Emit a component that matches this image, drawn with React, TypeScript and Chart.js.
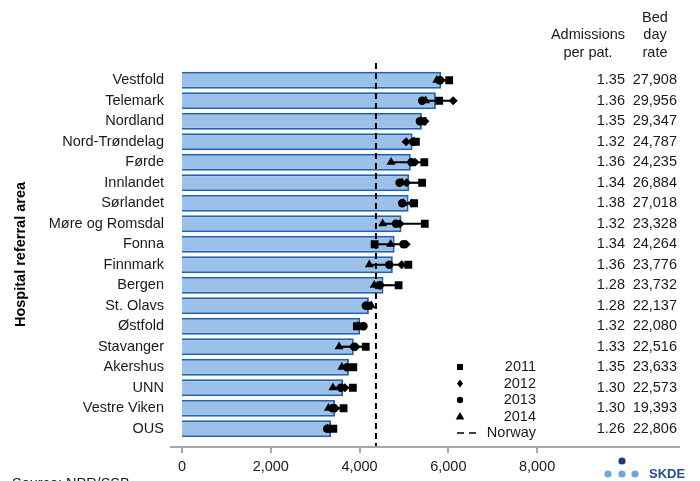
import React, { useEffect, useRef } from 'react';
import { Chart, registerables } from 'chart.js';

Chart.register(...registerables);

const FONT = '"Liberation Sans", Arial, Helvetica, sans-serif';

const categories = [
  'Vestfold', 'Telemark', 'Nordland', 'Nord-Trøndelag', 'Førde', 'Innlandet',
  'Sørlandet', 'Møre og Romsdal', 'Fonna', 'Finnmark', 'Bergen', 'St. Olavs',
  'Østfold', 'Stavanger', 'Akershus', 'UNN', 'Vestre Viken', 'OUS',
];

const rateValues = [5840, 5720, 5405, 5195, 5155, 5120, 5105, 4945, 4790, 4750, 4540, 4210, 4015, 3870, 3760, 3630, 3450, 3360];

const y2011 = [6020, 5795, 5420, 5270, 5460, 5410, 5230, 5470, 4340, 5100, 4880, 4200, 3940, 4140, 3860, 3850, 3640, 3410];
const y2012 = [5840, 6110, 5470, 5050, 5250, 5060, 5180, 4910, 5050, 4950, 4470, 4180, 4060, 3920, 3740, 3670, 3460, 3320];
const y2013 = [5800, 5410, 5360, 5210, 5170, 4900, 4960, 4820, 4990, 4670, 4450, 4140, 4090, 3880, 3720, 3580, 3390, 3270];
const y2014 = [5740, 5490, 5380, 5230, 4710, 4960, 4990, 4520, 4700, 4220, 4330, 4265, 3960, 3540, 3600, 3400, 3300, 3280];

const norwayValue = 4370;

const admissionsPerPat = ['1.35', '1.36', '1.35', '1.32', '1.36', '1.34', '1.38', '1.32', '1.34', '1.36', '1.28', '1.28', '1.32', '1.33', '1.35', '1.30', '1.30', '1.26'];
const bedDayRate = ['27,908', '29,956', '29,347', '24,787', '24,235', '26,884', '27,018', '23,328', '24,264', '23,776', '23,732', '22,137', '22,080', '22,516', '23,633', '22,573', '19,393', '22,806'];

const xTicks = [0, 2000, 4000, 6000, 8000];
const legendYears = ['2011', '2012', '2013', '2014'];
const yearShapes = ['rect', 'rectRot', 'circle', 'triangle'];
const yearRadii = [5.5, 4.6, 4.2, 5.2];

function drawShape(ctx: CanvasRenderingContext2D, shape: string, x: number, y: number, r: number) {
  ctx.beginPath();
  if (shape === 'rect') {
    const s = r * Math.SQRT1_2;
    ctx.rect(x - s, y - s, 2 * s, 2 * s);
  } else if (shape === 'rectRot') {
    ctx.moveTo(x, y - r);
    ctx.lineTo(x + r * 0.75, y);
    ctx.lineTo(x, y + r);
    ctx.lineTo(x - r * 0.75, y);
    ctx.closePath();
  } else if (shape === 'circle') {
    ctx.arc(x, y, r, 0, Math.PI * 2);
  } else {
    const h = r * 1.5;
    ctx.moveTo(x, y - h * 0.6);
    ctx.lineTo(x + r * 0.87, y + h * 0.4);
    ctx.lineTo(x - r * 0.87, y + h * 0.4);
    ctx.closePath();
  }
  ctx.fill();
}

const overlayPlugin = {
  id: 'overlay',
  afterDatasetDraw(chart: any, args: any) {
    if (args.index !== 0) return;
    const ctx = chart.ctx as CanvasRenderingContext2D;
    const xs = chart.scales.x;
    const area = chart.chartArea;
    const axisY = area.bottom + 8;
    const nx = xs.getPixelForValue(norwayValue);
    ctx.save();
    ctx.strokeStyle = '#000';
    ctx.lineWidth = 2;
    ctx.setLineDash([6, 4]);
    ctx.beginPath();
    ctx.moveTo(nx, area.top - 7);
    ctx.lineTo(nx, axisY);
    ctx.stroke();
    ctx.restore();
  },
  afterDraw(chart: any) {
    const ctx = chart.ctx as CanvasRenderingContext2D;
    const xs = chart.scales.x;
    const ys = chart.scales.y;
    const area = chart.chartArea;
    const axisY = area.bottom + 8;
    ctx.save();
    // axis line + ticks
    ctx.strokeStyle = '#a6a6a6';
    ctx.lineWidth = 2;
    ctx.beginPath();
    ctx.moveTo(area.left - 12, axisY);
    ctx.lineTo(area.right, axisY);
    xTicks.forEach((v) => {
      const px = Math.round(xs.getPixelForValue(v));
      ctx.moveTo(px, axisY);
      ctx.lineTo(px, axisY + 6);
    });
    ctx.stroke();

    // table
    ctx.fillStyle = '#1a1a1a';
    ctx.font = `14.5px ${FONT}`;
    ctx.textBaseline = 'middle';
    ctx.textAlign = 'center';
    ctx.fillText('Bed', 655, 18);
    ctx.fillText('Admissions', 588, 35);
    ctx.fillText('day', 655, 35);
    ctx.fillText('per pat.', 588, 53);
    ctx.fillText('rate', 655, 53);
    ctx.textAlign = 'right';
    categories.forEach((_, i) => {
      const py = ys.getPixelForValue(i);
      ctx.fillText(admissionsPerPat[i], 625, py);
      ctx.fillText(bedDayRate[i], 677, py);
    });

    // legend
    const legendYs = [367, 383.5, 400, 416.5];
    ctx.fillStyle = '#000';
    legendYears.forEach((yr, i) => {
      drawShape(ctx, yearShapes[i], 460, legendYs[i], [4.3, 4, 3.2, 5][i]);
      ctx.fillStyle = '#1a1a1a';
      ctx.fillText(yr, 536, legendYs[i]);
      ctx.fillStyle = '#000';
    });
    ctx.strokeStyle = '#000';
    ctx.lineWidth = 1.5;
    ctx.setLineDash([7, 5]);
    ctx.beginPath();
    ctx.moveTo(457, 433);
    ctx.lineTo(478, 433);
    ctx.stroke();
    ctx.setLineDash([]);
    ctx.fillStyle = '#1a1a1a';
    ctx.fillText('Norway', 536, 433);

    // source
    ctx.textAlign = 'left';
    ctx.textBaseline = 'alphabetic';
    ctx.fillText('Source: NPR/SSB', 12, 488);

    // logo
    ctx.fillStyle = '#1f3b78';
    ctx.beginPath();
    ctx.arc(622, 461, 3.6, 0, Math.PI * 2);
    ctx.fill();
    ctx.fillStyle = '#6fa6dc';
    [608, 622, 635].forEach((cx) => {
      ctx.beginPath();
      ctx.arc(cx, 474, 3.6, 0, Math.PI * 2);
      ctx.fill();
    });
    ctx.fillStyle = '#24508f';
    ctx.font = `bold 13px ${FONT}`;
    ctx.textBaseline = 'middle';
    ctx.fillText('SKDE', 649, 474);
    ctx.restore();
  },
};

export default function App() {
  const ref = useRef<HTMLCanvasElement | null>(null);

  useEffect(() => {
    if (!ref.current) return;
    const years = [y2011, y2012, y2013, y2014];
    const ranges = categories.map((_, i) => {
      const vals = years.map((a) => a[i]);
      return [Math.min(...vals), Math.max(...vals)];
    });
    const chart = new Chart(ref.current, {
      type: 'bar',
      data: {
        labels: categories,
        datasets: [
          {
            type: 'bar',
            label: 'Rate',
            data: rateValues,
            backgroundColor: '#9bc1ea',
            borderColor: '#2263ae',
            borderWidth: 2,
            barPercentage: 0.83,
            categoryPercentage: 1,
            grouped: false,
            order: 10,
          } as any,
          {
            type: 'bar',
            label: 'Range',
            data: ranges as any,
            backgroundColor: '#000',
            barThickness: 1.5,
            grouped: false,
            order: 6,
          } as any,
          ...years.map((arr, k) => ({
            type: 'line',
            label: legendYears[k],
            data: arr,
            showLine: false,
            pointStyle: yearShapes[k],
            pointRadius: yearRadii[k],
            pointHoverRadius: yearRadii[k],
            pointBackgroundColor: '#000',
            pointBorderColor: '#000',
            pointBorderWidth: 0,
            order: 4 - k,
          })) as any,
        ],
      },
      options: {
        indexAxis: 'y',
        responsive: false,
        animation: false,
        events: [],
        layout: { padding: { top: 70, right: 20, bottom: 0, left: 0 } },
        plugins: { legend: { display: false }, tooltip: { enabled: false } },
        scales: {
          x: {
            type: 'linear',
            min: 0,
            max: 11220,
            grid: { display: false, drawTicks: false },
            border: { display: false },
            ticks: {
              color: '#1a1a1a',
              font: { size: 14.5, family: FONT },
              padding: 19,
              callback: (v: any) => Number(v).toLocaleString('en-US'),
            },
            afterBuildTicks: (s: any) => {
              s.ticks = xTicks.map((v) => ({ value: v }));
            },
            afterFit: (s: any) => {
              s.height = 42;
            },
          },
          y: {
            type: 'category',
            grid: { display: false, drawTicks: false },
            border: { display: false },
            ticks: {
              color: '#1a1a1a',
              font: { size: 14.5, family: FONT },
              padding: 18,
              autoSkip: false,
            },
            title: {
              display: true,
              text: 'Hospital referral area',
              color: '#000',
              font: { size: 14.5, weight: 'bold', family: FONT },
              padding: { top: 12, bottom: 0 },
            },
            afterFit: (s: any) => {
              s.width = 182;
            },
          },
        },
      } as any,
      plugins: [overlayPlugin],
    });
    return () => chart.destroy();
  }, []);

  return (
    <div style={{ position: 'absolute', left: 0, top: 0, width: 700, height: 481, background: '#fff' }}>
      <canvas ref={ref} width={700} height={481} style={{ display: 'block' }} />
    </div>
  );
}
